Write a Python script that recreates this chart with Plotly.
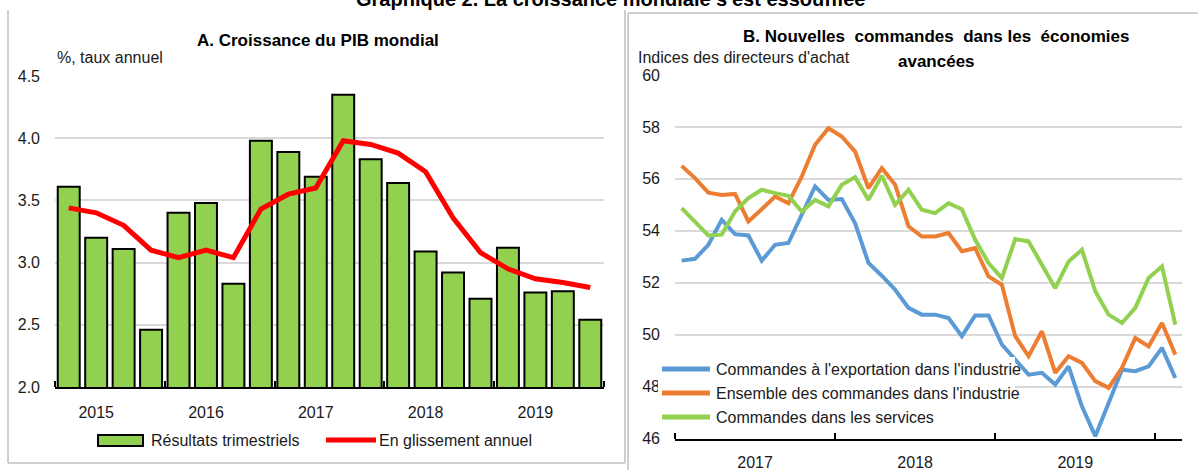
import plotly.graph_objects as go

# ---------------- data ----------------
quarter_idx = list(range(20))  # 2015Q1 .. 2019Q4
quarterly_growth = [3.61, 3.20, 3.11, 2.46, 3.40, 3.48, 2.83, 3.98, 3.89, 3.69,
                    4.35, 3.83, 3.64, 3.09, 2.92, 2.71, 3.12, 2.76, 2.77, 2.54]
annual_growth = [3.44, 3.40, 3.30, 3.10, 3.04, 3.10, 3.04, 3.43, 3.55, 3.60,
                 3.98, 3.95, 3.88, 3.73, 3.36, 3.08, 2.95, 2.87, 2.84, 2.80]
year_ticks_left = [1, 5, 9, 13, 17]
year_labels_left = ["2015", "2016", "2017", "2018", "2019"]

month_idx = list(range(38))
export_orders = [52.85, 52.92, 53.46, 54.42, 53.87, 53.82, 52.85, 53.46, 53.53, 54.65,
                 55.71, 55.19, 55.22, 54.29, 52.76, 52.27, 51.73, 51.03, 50.77, 50.77,
                 50.64, 49.94, 50.74, 50.74, 49.62, 49.04, 48.46, 48.53, 48.08, 48.78,
                 47.24, 46.09, 47.37, 48.65, 48.59, 48.78, 49.49, 48.33]
total_orders = [56.50, 56.03, 55.47, 55.38, 55.42, 54.36, 54.83, 55.32, 55.06, 56.09,
                57.31, 57.95, 57.63, 57.05, 55.64, 56.41, 55.77, 54.17, 53.78, 53.78,
                53.91, 53.21, 53.33, 52.24, 51.92, 49.94, 49.17, 50.13, 48.53, 49.17,
                48.91, 48.21, 47.95, 48.72, 49.87, 49.55, 50.45, 49.23]
services_orders = [54.87, 54.36, 53.82, 53.85, 54.74, 55.26, 55.58, 55.45, 55.35, 54.74,
                   55.19, 54.94, 55.77, 56.06, 55.19, 56.12, 55.00, 55.58, 54.81, 54.68,
                   55.06, 54.83, 53.65, 52.76, 52.18, 53.68, 53.59, 52.69, 51.79, 52.82,
                   53.27, 51.67, 50.77, 50.45, 51.03, 52.18, 52.63, 50.38]
year_ticks_right = [5.5, 17.5, 29.5]
year_labels_right = ["2017", "2018", "2019"]

series_names = ["Commandes à l'exportation dans l'industrie",
                "Ensemble des commandes dans l'industrie",
                "Commandes dans les services"]

# ---------------- layout helpers ----------------
W, H = 1198, 470
def fx(p): return p / W
def fy(p): return 1 - p / H

NARROW = "Liberation Sans Narrow, Arial Narrow, Liberation Sans, Arial, sans-serif"
BOLD = "Liberation Sans, Arial, sans-serif"
GREEN_BAR = "#92D050"
RED = "#FF0000"
BLUE = "#5B9BD5"
ORANGE = "#ED7D31"
GREEN = "#92D050"
GRID = "#D9D9D9"
TXT = "#1a1a1a"

fig = go.Figure()

fig.add_trace(go.Bar(x=quarter_idx, y=quarterly_growth, width=0.8,
                     marker=dict(color=GREEN_BAR, line=dict(color="black", width=2)),
                     name="Résultats trimestriels", showlegend=False,
                     xaxis="x", yaxis="y"))
fig.add_trace(go.Scatter(x=quarter_idx, y=annual_growth, mode="lines",
                         line=dict(color=RED, width=5),
                         name="En glissement annuel", showlegend=False,
                         xaxis="x", yaxis="y"))

for vals, col, nm in [(export_orders, BLUE, series_names[0]),
                      (total_orders, ORANGE, series_names[1]),
                      (services_orders, GREEN, series_names[2])]:
    fig.add_trace(go.Scatter(x=month_idx, y=vals, mode="lines",
                             line=dict(color=col, width=4),
                             name=nm, showlegend=False,
                             xaxis="x2", yaxis="y2"))

tickfont = dict(family=NARROW, size=16, color=TXT)

fig.update_layout(
    width=W, height=H,
    margin=dict(l=0, r=0, t=0, b=0, autoexpand=False),
    paper_bgcolor="white", plot_bgcolor="white",
    bargap=0.2,
    xaxis=dict(domain=[fx(55), fx(604)], range=[-0.5, 19.5],
               tickmode="array", tickvals=year_ticks_left, ticktext=year_labels_left,
               ticks="", showgrid=False, zeroline=False, automargin=False,
               showline=True, linecolor="black", linewidth=2,
               tickfont=tickfont, ticklabelstandoff=10,
               minor=dict(ticks="inside", tick0=-0.5, dtick=4, ticklen=6,
                          tickwidth=2, tickcolor="black", showgrid=False)),
    yaxis=dict(domain=[fy(387), fy(76)], range=[2, 4.5], automargin=False,
               tickmode="array", tickvals=[2.0, 2.5, 3.0, 3.5, 4.0, 4.5],
               ticktext=["2.0", "2.5", "3.0", "3.5", "4.0", "4.5"],
               showgrid=True, gridcolor=GRID, gridwidth=2, zeroline=False,
               showline=False, ticks="", tickfont=tickfont, ticklabelstandoff=14),
    xaxis2=dict(domain=[fx(675), fx(1182)], range=[-0.5, 37.5], anchor="y2",
                tickmode="array", tickvals=year_ticks_right, ticktext=year_labels_right,
                ticks="", showgrid=False, zeroline=False, automargin=False,
                showline=True, linecolor="black", linewidth=2,
                tickfont=tickfont, ticklabelstandoff=8,
                minor=dict(ticks="inside", tick0=-0.5, dtick=12, ticklen=6,
                           tickwidth=2, tickcolor="black", showgrid=False)),
    yaxis2=dict(domain=[fy(438.5), fy(75)], range=[46, 60], anchor="x2", automargin=False,
                tickmode="array", tickvals=[46, 48, 50, 52, 54, 56, 58, 60],
                showgrid=True, gridcolor=GRID, gridwidth=2, zeroline=False,
                showline=False, ticks="", tickfont=tickfont, ticklabelstandoff=14),
)

shapes = []
# panel frames
frame = dict(type="line", xref="paper", yref="paper", line=dict(color="#BFBFBF", width=1.5))
shapes.append({**frame, "x0": fx(8), "x1": fx(8), "y0": fy(10), "y1": fy(463)})
shapes.append({**frame, "x0": fx(8), "x1": fx(625), "y0": fy(463), "y1": fy(463)})
shapes.append({**frame, "x0": fx(625), "x1": fx(625), "y0": fy(10), "y1": fy(463)})
shapes.append({**frame, "x0": fx(628), "x1": fx(628), "y0": fy(13), "y1": fy(475)})
shapes.append({**frame, "x0": fx(628), "x1": fx(1198), "y0": fy(13), "y1": fy(13)})

# left legend
shapes.append(dict(type="rect", xref="paper", yref="paper",
                   x0=fx(98), x1=fx(143), y0=fy(446), y1=fy(435),
                   fillcolor=GREEN_BAR, line=dict(color="black", width=2)))
shapes.append(dict(type="line", xref="paper", yref="paper",
                   x0=fx(326), x1=fx(376), y0=fy(440), y1=fy(440),
                   line=dict(color=RED, width=5)))
# right legend
shapes.append(dict(type="rect", xref="paper", yref="paper", layer="above",
                   x0=fx(658), x1=fx(1015), y0=fy(429), y1=fy(357),
                   fillcolor="white", line=dict(width=0)))
for yy, col in zip([369, 393, 417], [BLUE, ORANGE, GREEN]):
    shapes.append(dict(type="line", xref="paper", yref="paper", layer="above",
                       x0=fx(662), x1=fx(710), y0=fy(yy), y1=fy(yy),
                       line=dict(color=col, width=5)))
fig.update_layout(shapes=shapes)

ann = []
def txt(text, x, y, size=16, family=NARROW, bold=False, xanchor="left", color=TXT):
    if bold:
        text = "<b>" + text + "</b>"
    ann.append(dict(text=text, x=fx(x), y=fy(y), xref="paper", yref="paper",
                    xanchor=xanchor, yanchor="middle", showarrow=False,
                    font=dict(family=family, size=size, color=color)))

txt("Graphique 2. La croissance mondiale s'est essoufflée", 610, -1, size=20,
    family=BOLD, bold=True, xanchor="center", color="black")
txt("A. Croissance du PIB mondial", 318, 41, size=17, bold=True, xanchor="center", color="black")
txt("%, taux annuel", 55, 57, size=16)
txt("B. Nouvelles  commandes  dans les  économies", 936, 37, size=17, bold=True,
    xanchor="center", color="black")
txt("avancées", 936, 61, size=17, bold=True, xanchor="center", color="black")
txt("Indices des directeurs d'achat", 636, 58, size=16)
txt("Résultats trimestriels", 149, 440, size=16)
txt("En glissement annuel", 377, 440, size=16)
for yy, nm in zip([369, 393, 417], series_names):
    txt(nm, 714, yy, size=16)
fig.update_layout(annotations=ann)

fig.write_html(
    "out.html",
    config={"displayModeBar": False},
    post_script="document.documentElement.style.margin='0';"
                "document.body.style.margin='0';"
                "document.body.style.overflow='hidden';",
)
